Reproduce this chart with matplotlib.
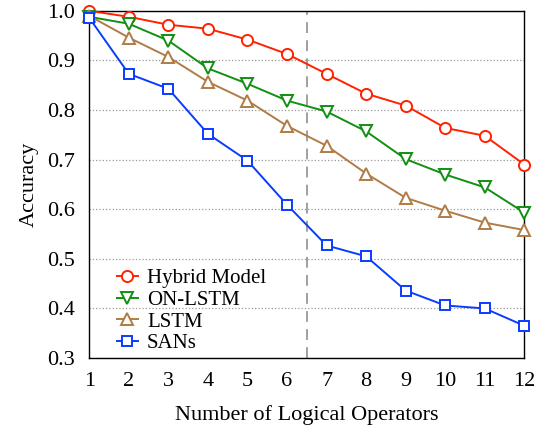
import matplotlib
matplotlib.use("Agg")
import matplotlib.pyplot as plt

plt.rcParams["font.family"] = ["Liberation Serif", "DejaVu Serif"]

operators = list(range(1, 13))
hybrid = [1.0, 0.988, 0.972, 0.964, 0.942, 0.913, 0.873, 0.833, 0.809, 0.764, 0.748, 0.690]
on_lstm = [0.988, 0.974, 0.940, 0.884, 0.853, 0.819, 0.797, 0.757, 0.701, 0.670, 0.644, 0.593]
lstm = [0.990, 0.946, 0.907, 0.857, 0.819, 0.768, 0.728, 0.672, 0.623, 0.597, 0.573, 0.558]
sans = [0.986, 0.873, 0.843, 0.752, 0.698, 0.609, 0.527, 0.505, 0.436, 0.406, 0.400, 0.365]

fig, ax = plt.subplots(figsize=(5.44, 4.34), dpi=100)
fig.subplots_adjust(left=0.164, right=0.964, top=0.975, bottom=0.175)

style = dict(lw=1.4, mew=1.4, mfc="white", clip_on=False, zorder=3)
ax.plot(operators, hybrid, "-o", color="#ff2200", label="Hybrid Model", ms=8, **style)
ax.plot(operators, on_lstm, "-v", color="#119011", label="ON-LSTM", ms=8, **style)
ax.plot(operators, lstm, "-^", color="#b07c45", label="LSTM", ms=8, **style)
ax.plot(operators, sans, "-s", color="#0a3cff", label="SANs", ms=7, **style)

ax.axvline(6.5, color="#999999", ls=(0, (6, 4)), lw=1.3, zorder=1)

ax.set_xlim(1, 12)
ax.set_ylim(0.3, 1.0)
ax.set_xticks(operators)
ax.set_yticks([0.3, 0.4, 0.5, 0.6, 0.7, 0.8, 0.9, 1.0])
ax.set_yticklabels([f"{v:.1f}" for v in ax.get_yticks()])
ax.yaxis.grid(True, ls=":", color="#999999", lw=0.9)
ax.tick_params(labelsize=16, length=0, pad=10)
ax.set_xlabel("Number of Logical Operators", fontsize=16, labelpad=10)
ax.set_ylabel("Accuracy", fontsize=16, labelpad=6)
for s in ax.spines.values():
    s.set_linewidth(1.0)

ax.legend(loc="lower left", bbox_to_anchor=(0.02, -0.04), frameon=False, fontsize=15,
          handlelength=1.0, labelspacing=0.1, handletextpad=0.45)

fig.savefig("out.png", dpi=100)
